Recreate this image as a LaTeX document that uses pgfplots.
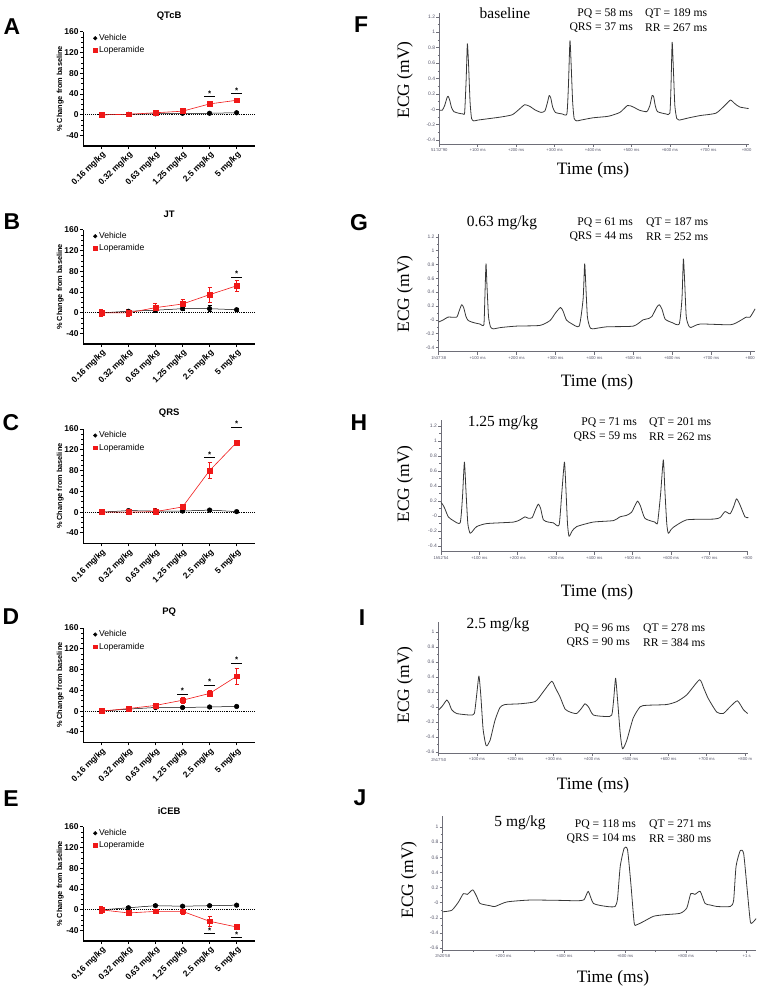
\documentclass[border=0pt]{standalone}
\usepackage{pgfplots}
\pgfplotsset{compat=1.18}
\usepackage{fontspec}
\setmainfont{Liberation Sans}
\newfontfamily\timesf{Liberation Serif}
\definecolor{lopred}{RGB}{240,24,24}
\definecolor{ecggray}{RGB}{55,55,55}
\definecolor{ecgaxis}{RGB}{110,110,120}
\definecolor{ticklab}{RGB}{85,85,105}
\newcommand{\fs}[1]{\fontsize{#1}{#1}\selectfont}

\pgfplotsset{
 leftp/.style={
  scale only axis, width=171.7bp, height=114.3bp, anchor=south west,
  xmin=-0.67, xmax=5.68, ymin=-60, ymax=160,
  axis lines=left, axis line style={-, line width=1.1bp},
  ytick={-40,0,40,80,120,160}, yticklabels={-40,0,40,80,120,160},
  minor y tick num=3,
  xtick={0,1,2,3,4,5},
  xticklabels={0.16 mg/kg,0.32 mg/kg,0.63 mg/kg,1.25 mg/kg,2.5 mg/kg,5 mg/kg},
  tick align=outside, major tick length=3bp, minor tick length=1.8bp,
  tick style={black, line width=0.9bp}, minor tick style={black, line width=0.7bp},
  x tick label style={rotate=45, anchor=north east, font=\bfseries\fs{8.5}, inner sep=1bp},
  y tick label style={font=\bfseries\fs{8.5}, inner sep=1.5bp},
  ylabel={\% Change from baseline},
  ylabel style={at={(axis description cs:-0.135,0.5)}, anchor=center, font=\bfseries\fs{7.4}},
  title style={at={(axis description cs:0.5,1)}, anchor=center, yshift=9.5bp, font=\bfseries\fs{9.5}},
  legend style={draw=none, fill=none, at={(axis description cs:0.055,1.0)}, anchor=north west, font=\fs{8.6}, row sep=0.5bp, inner sep=0.5bp,
     /tikz/every even column/.append style={column sep=3bp}},
  legend cell align=left,
  clip=false,
 },
 veh/.style={forget plot, black, line width=0.5bp, mark=*, mark size=2.3bp, mark options={solid}},
 lop/.style={forget plot, lopred, line width=0.6bp, mark=square*, mark size=2.4bp, mark options={solid}},
 ebars/.style={error bars/.cd, y dir=both, y explicit, error bar style={line width=0.6bp}, error mark options={rotate=90, mark size=2bp, line width=0.6bp}},
 zl/.style={forget plot, black, densely dotted, line width=0.9bp},
 ecg/.style={scale only axis, anchor=south west, axis x line=bottom, axis y line=left,
  axis line style={-, ecgaxis, line width=0.6bp}, tick style={ecgaxis, line width=0.5bp},
  tick align=outside, major tick length=3bp, minor tick length=1.8bp, minor y tick num=1,
  y tick label style={font=\fs{5}, text=ticklab, inner sep=1bp},
  x tick label style={font=\fs{4.2}, text=ticklab, inner sep=1.5bp},
  clip=false},
 ecgline/.style={ecggray, line width=0.8bp, line join=round, smooth, tension=0.35},
}
\newcommand{\leftlegend}{%
\addlegendimage{only marks, mark=*, black, mark size=1.8bp}\addlegendentry{Vehicle}
\addlegendimage{only marks, mark=square*, lopred, mark size=1.8bp}\addlegendentry{Loperamide}}

\begin{document}
\begin{tikzpicture}
\path[use as bounding box] (0,0) rectangle (761bp,-988bp);

% ---------------- Panel letters
\begin{scope}[every node/.style={font=\bfseries\fs{23}}]
\node at (12bp,-27bp) {A};
\node at (12bp,-222bp) {B};
\node at (11bp,-423bp) {C};
\node at (11bp,-617bp) {D};
\node at (11bp,-799bp) {E};
\node at (361bp,-25bp) {F};
\node at (359bp,-223bp) {G};
\node at (359bp,-423bp) {H};
\node at (362bp,-618bp) {I};
\node at (360bp,-798bp) {J};
\end{scope}

% ---------------- A
\begin{axis}[leftp, at={(83.3bp,-146bp)}, title={QTcB}]
\leftlegend
\addplot[zl] coordinates {(-0.67,0) (5.68,0)};
\addplot[veh] coordinates {(0,0) (1,1) (2,2) (3,3) (4,3) (5,4)};
\addplot[lop] coordinates {(0,0) (1,1) (2,4) (3,7) (4,21) (5,28)};
\draw[line width=0.6bp] (axis cs:3.8,35) -- (axis cs:4.2,35);
\draw[line width=0.6bp] (axis cs:4.8,41) -- (axis cs:5.2,41);
\node[font=\bfseries\fs{8}] at (axis cs:4,40) {*};
\node[font=\bfseries\fs{8}] at (axis cs:5,46) {*};
\end{axis}

% ---------------- B
\begin{axis}[leftp, at={(83.3bp,-344bp)}, title={JT}]
\leftlegend
\addplot[zl] coordinates {(-0.67,0) (5.68,0)};
\addplot[veh, ebars] coordinates {(0,0)+-(0,5) (1,3)+-(0,4) (2,5)+-(0,4) (3,8)+-(0,3) (4,8)+-(0,6) (5,6)+-(0,3)};
\addplot[lop, ebars] coordinates {(0,0)+-(0,7) (1,0)+-(0,6) (2,10)+-(0,8) (3,17)+-(0,9) (4,35)+-(0,14) (5,52)+-(0,11)};
\draw[line width=0.6bp] (axis cs:4.8,69) -- (axis cs:5.2,69);
\node[font=\bfseries\fs{8}] at (axis cs:5,75) {*};
\end{axis}

% ---------------- C
\begin{axis}[leftp, at={(83.3bp,-543.3bp)}, title={QRS}]
\leftlegend
\addplot[zl] coordinates {(-0.67,0) (5.68,0)};
\addplot[veh, ebars] coordinates {(0,0)+-(0,3) (1,3)+-(0,3) (2,2)+-(0,2) (3,2)+-(0,2) (4,4)+-(0,2) (5,1)+-(0,2)};
\addplot[lop, ebars] coordinates {(0,0)+-(0,3) (1,0)+-(0,5) (2,1)+-(0,6) (3,10)+-(0,4) (4,80)+-(0,15) (5,134)+-(0,4)};
\draw[line width=0.6bp] (axis cs:3.8,105) -- (axis cs:4.2,105);
\draw[line width=0.6bp] (axis cs:4.8,164) -- (axis cs:5.2,164);
\node[font=\bfseries\fs{8}] at (axis cs:4,111) {*};
\node[font=\bfseries\fs{8}] at (axis cs:5,170) {*};
\end{axis}

% ---------------- D
\begin{axis}[leftp, at={(83.3bp,-742.3bp)}, title={PQ}]
\leftlegend
\addplot[zl] coordinates {(-0.67,0) (5.68,0)};
\addplot[veh, ebars] coordinates {(0,0)+-(0,2) (1,4)+-(0,2) (2,7)+-(0,2) (3,7)+-(0,2) (4,8)+-(0,2) (5,9)+-(0,2)};
\addplot[lop, ebars] coordinates {(0,0)+-(0,3) (1,5)+-(0,2) (2,11)+-(0,3) (3,21)+-(0,5) (4,34)+-(0,6) (5,67)+-(0,16)};
\draw[line width=0.6bp] (axis cs:2.8,32) -- (axis cs:3.2,32);
\draw[line width=0.6bp] (axis cs:3.8,50) -- (axis cs:4.2,50);
\draw[line width=0.6bp] (axis cs:4.8,93) -- (axis cs:5.2,93);
\node[font=\bfseries\fs{8}] at (axis cs:3,39) {*};
\node[font=\bfseries\fs{8}] at (axis cs:4,56) {*};
\node[font=\bfseries\fs{8}] at (axis cs:5,99) {*};
\end{axis}

% ---------------- E
\begin{axis}[leftp, at={(83.3bp,-941bp)}, title={iCEB}]
\leftlegend
\addplot[zl] coordinates {(-0.67,0) (5.68,0)};
\addplot[veh, ebars] coordinates {(0,0)+-(0,3) (1,4)+-(0,2) (2,8)+-(0,2) (3,7)+-(0,2) (4,8)+-(0,2) (5,9)+-(0,2)};
\addplot[lop, ebars] coordinates {(0,0)+-(0,6) (1,-6)+-(0,3) (2,-3)+-(0,4) (3,-3)+-(0,5) (4,-22)+-(0,9) (5,-33)+-(0,4)};
\draw[line width=0.6bp] (axis cs:3.8,-46) -- (axis cs:4.2,-46);
\draw[line width=0.6bp] (axis cs:4.8,-52) -- (axis cs:5.2,-52);
\node[font=\bfseries\fs{8}] at (axis cs:4,-40) {*};
\node[font=\bfseries\fs{8}] at (axis cs:5,-47) {*};
\end{axis}

% ---------------- F
\begin{axis}[ecg, at={(439.3bp,-144bp)}, width=309.3bp, height=131bp,
  xmin=0, xmax=805, ymin=-0.45, ymax=1.25,
  ytick={-0.4,-0.2,0,0.2,0.4,0.6,0.8,1,1.2}, yticklabels={-0.4,-0.2,-0,0.2,0.4,0.6,0.8,1,1.2},
  xtick={0,100,200,300,400,500,600,700,800},
  xticklabels={51'32"90,+100 ms,+200 ms,+300 ms,+400 ms,+500 ms,+600 ms,+700 ms,+800}]
\addplot[ecgline] coordinates {
(0,-0.01) (8,-0.01) (14,0.05) (20,0.15) (23,0.17) (27,0.12) (32,0.02) (38,-0.03) (50,-0.05) (62,-0.06)
(66,-0.04) (70,0.40) (73,0.85) (76,0.60) (80,0.10) (84,-0.12) (90,-0.15) (100,-0.14) (130,-0.12) (160,-0.10)
(190,-0.07) (210,0.01) (222,0.06) (235,0.04) (250,-0.01) (265,-0.04) (275,-0.02) (282,0.10) (286,0.18) (290,0.15)
(295,0.03) (302,-0.04) (320,-0.06) (332,-0.06) (336,0.30) (340,0.89) (343,0.60) (347,0.10) (351,-0.12) (358,-0.15)
(368,-0.14) (400,-0.11) (440,-0.09) (470,-0.04) (490,0.05) (505,0.03) (520,-0.01) (540,-0.03) (548,0.05) (554,0.18)
(558,0.16) (562,0.05) (568,-0.03) (590,-0.06) (600,-0.05) (603,0.30) (606,0.87) (609,0.55) (613,0.05) (618,-0.12)
(624,-0.14) (650,-0.11) (680,-0.08) (720,-0.05) (745,0.06) (758,0.12) (770,0.07) (782,0.03) (805,0.01)};
\end{axis}

% ---------------- G
\begin{axis}[ecg, at={(438.7bp,-351.7bp)}, width=316.4bp, height=117.6bp,
  xmin=0, xmax=813, ymin=-0.46, ymax=1.24,
  ytick={-0.4,-0.2,0,0.2,0.4,0.6,0.8,1,1.2}, yticklabels={-0.4,-0.2,-0,0.2,0.4,0.6,0.8,1,1.2},
  xtick={0,100,200,300,400,500,600,700,800},
  xticklabels={1h37'38,+100 ms,+200 ms,+300 ms,+400 ms,+500 ms,+600 ms,+700 ms,+800}]
\addplot[ecgline] coordinates {
(0,-0.03) (12,0.00) (24,0.04) (46,0.04) (52,0.12) (59,0.22) (64,0.18) (70,0.05) (76,-0.01) (90,-0.04)
(106,-0.06) (116,-0.07) (118.5,0.30) (121.5,0.81) (124,0.50) (128,0.05) (133,-0.10) (140,-0.13) (160,-0.11) (200,-0.09)
(260,-0.08) (286,-0.01) (300,0.10) (313,0.18) (320,0.12) (328,0.00) (340,-0.05) (361,-0.09) (371,0.30) (375,0.81)
(378,0.50) (382,0.05) (388,-0.10) (395,-0.13) (432,-0.10) (500,-0.09) (525,0.00) (540,0.02) (548,0.05) (560,0.18)
(567,0.22) (574,0.15) (582,0.01) (600,-0.04) (618,-0.06) (625,0.30) (628.7,0.88) (632,0.55) (636,0.05) (642,-0.08)
(648,-0.11) (672,-0.06) (750,-0.07) (775,-0.01) (790,0.04) (800,0.04) (813,0.16)};
\end{axis}

% ---------------- H
\begin{axis}[ecg, at={(441bp,-551.7bp)}, width=307.4bp, height=131.6bp,
  xmin=0, xmax=802, ymin=-0.475, ymax=1.28,
  ytick={-0.4,-0.2,0,0.2,0.4,0.6,0.8,1,1.2}, yticklabels={-0.4,-0.2,-0,0.2,0.4,0.6,0.8,1,1.2},
  xtick={0,100,200,300,400,500,600,700,800},
  xticklabels={1h52'54,+100 ms,+200 ms,+300 ms,+400 ms,+500 ms,+600 ms,+700 ms,+800}]
\addplot[ecgline] coordinates {
(0,0.18) (5,0.15) (10,0.10) (19,-0.01) (32,-0.06) (50,-0.09) (56,0.25) (61,0.72) (65,0.35) (70,-0.10)
(76,-0.23) (84,-0.19) (93,-0.14) (119,-0.10) (189,-0.08) (206,-0.05) (219,-0.01) (228,-0.03) (238,-0.02) (246,0.08)
(254,0.16) (260,0.10) (267,-0.05) (280,-0.08) (293,-0.09) (308,-0.12) (315,0.30) (322,0.72) (326,0.35) (330,-0.10)
(334,-0.27) (342,-0.20) (354,-0.14) (397,-0.08) (450,-0.06) (467,-0.01) (484,0.01) (497,0.05) (506,0.14) (513,0.20)
(520,0.14) (532,-0.03) (558,-0.08) (565,-0.09) (573,0.30) (580,0.75) (584,0.35) (589,-0.10) (593,-0.23) (600,-0.18)
(606,-0.15) (641,-0.05) (711,-0.04) (728,-0.02) (741,0.06) (754,0.03) (763,0.12) (771,0.23) (780,0.15) (793,-0.01)
(802,-0.02)};
\end{axis}

% ---------------- I
\begin{axis}[ecg, at={(438.7bp,-753.3bp)}, width=309bp, height=131.3bp,
  xmin=0, xmax=807, ymin=-0.62, ymax=1.13,
  ytick={-0.6,-0.4,-0.2,0,0.2,0.4,0.6,0.8,1}, yticklabels={-0.6,-0.4,-0.2,-0,0.2,0.4,0.6,0.8,1},
  xtick={0,100,200,300,400,500,600,700,800},
  xticklabels={2h17'50,+100 ms,+200 ms,+300 ms,+400 ms,+500 ms,+600 ms,+700 ms,+800 m}]
\addplot[ecgline] coordinates {
(0,-0.04) (8,0.00) (15,0.05) (21,0.09) (27,0.05) (34,-0.04) (47,-0.09) (82,-0.11) (93,-0.09) (99,0.15)
(105,0.41) (110,0.15) (116,-0.30) (124,-0.52) (134,-0.45) (147,-0.18) (160,-0.01) (173,0.03) (212,0.04) (252,0.07)
(273,0.20) (295,0.34) (305,0.25) (317,0.13) (330,-0.03) (343,-0.07) (360,-0.09) (373,-0.02) (382,0.04) (391,0.00)
(404,-0.11) (439,-0.13) (452,-0.11) (457,0.10) (462,0.38) (467,0.10) (474,-0.35) (480,-0.56) (491,-0.45) (508,-0.15)
(526,0.00) (543,0.02) (595,0.03) (622,0.07) (648,0.16) (681,0.36) (692,0.25) (704,0.11) (726,-0.07) (743,-0.09)
(761,0.00) (780,0.08) (796,-0.04) (807,-0.09)};
\end{axis}

% ---------------- J
\begin{axis}[ecg, at={(442.7bp,-950bp)}, width=313.4bp, height=133.6bp,
  xmin=0, xmax=1031, ymin=-0.625, ymax=1.14,
  ytick={-0.6,-0.4,-0.2,0,0.2,0.4,0.6,0.8,1}, yticklabels={-0.6,-0.4,-0.2,-0,0.2,0.4,0.6,0.8,1},
  xtick={0,200,400,600,800,1000}, minor xtick={100,300,500,700,900},
  xticklabels={2h20'58,+200 ms,+400 ms,+600 ms,+800 ms,+1 s}]
\addplot[ecgline] coordinates {
(0,-0.12) (30,-0.10) (52,0.01) (68,0.12) (81,0.11) (99,0.17) (112,0.08) (123,-0.01) (156,-0.04) (172,-0.05)
(211,0.01) (287,0.035) (397,0.03) (441,0.025) (465,0.04) (479,0.15) (496,-0.01) (540,-0.05) (567,-0.05) (575,0.05)
(584,0.48) (597,0.72) (608,0.70) (619,0.25) (630,-0.27) (639,-0.29) (660,-0.25) (693,-0.18) (726,-0.16) (781,-0.14)
(803,-0.07) (816,0.12) (830,0.11) (847,0.15) (863,-0.01) (880,-0.03) (902,-0.05) (946,-0.05) (957,0.03) (965,0.48)
(979,0.69) (990,0.65) (1001,0.20) (1012,-0.25) (1020,-0.26) (1031,-0.21)};
\end{axis}

% ---------------- ECG texts
\begin{scope}[every node/.style={font=\timesf\fs{17.5}}]
\node[rotate=90] at (405bp,-80bp) {ECG (mV)};
\node[rotate=90] at (405bp,-294bp) {ECG (mV)};
\node[rotate=90] at (405bp,-484bp) {ECG (mV)};
\node[rotate=90] at (405bp,-685bp) {ECG (mV)};
\node[rotate=90] at (409bp,-880bp) {ECG (mV)};
\node at (593bp,-170bp) {Time (ms)};
\node at (597bp,-382bp) {Time (ms)};
\node at (597bp,-592bp) {Time (ms)};
\node at (593bp,-785bp) {Time (ms)};
\node at (613bp,-978bp) {Time (ms)};
\end{scope}
\begin{scope}[every node/.style={font=\timesf\fs{15.5}}]
\node at (505bp,-13bp) {baseline};
\node at (502bp,-223bp) {0.63 mg/kg};
\node at (503bp,-423bp) {1.25 mg/kg};
\node at (498bp,-625bp) {2.5 mg/kg};
\node at (520bp,-823bp) {5 mg/kg};
\end{scope}
\begin{scope}[every node/.style={font=\timesf\fs{11.7}, inner sep=0pt}]
\node[anchor=east] at (633bp,-14bp) {PQ = 58 ms};
\node[anchor=west] at (645bp,-14bp) {QT = 189 ms};
\node[anchor=east] at (633bp,-28bp) {QRS = 37 ms};
\node[anchor=west] at (645bp,-28bp) {RR = 267 ms};
\node[anchor=east] at (633bp,-223bp) {PQ = 61 ms};
\node[anchor=west] at (646bp,-223bp) {QT = 187 ms};
\node[anchor=east] at (633bp,-237bp) {QRS = 44 ms};
\node[anchor=west] at (646bp,-237bp) {RR = 252 ms};
\node[anchor=east] at (637bp,-423bp) {PQ = 71 ms};
\node[anchor=west] at (649bp,-423bp) {QT = 201 ms};
\node[anchor=east] at (637bp,-437bp) {QRS = 59 ms};
\node[anchor=west] at (649bp,-437bp) {RR = 262 ms};
\node[anchor=east] at (630bp,-629bp) {PQ = 96 ms};
\node[anchor=west] at (643bp,-629bp) {QT = 278 ms};
\node[anchor=east] at (630bp,-643bp) {QRS = 90 ms};
\node[anchor=west] at (643bp,-643bp) {RR = 384 ms};
\node[anchor=east] at (636bp,-825bp) {PQ = 118 ms};
\node[anchor=west] at (649bp,-825bp) {QT = 271 ms};
\node[anchor=east] at (636bp,-839bp) {QRS = 104 ms};
\node[anchor=west] at (649bp,-839bp) {RR = 380 ms};
\end{scope}
\end{tikzpicture}
\end{document}
